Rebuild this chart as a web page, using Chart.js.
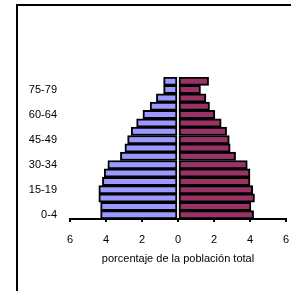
<!DOCTYPE html>
<html>
<head>
<meta charset="utf-8">
<script src="https://cdn.jsdelivr.net/npm/chart.js@4/dist/chart.umd.min.js"></script>
<style>
  html, body { margin: 0; padding: 0; background: #fff; }
  #wrap { width: 291px; height: 291px; position: relative; }
</style>
</head>
<body>
<div id="wrap"><canvas id="pyramid" width="291" height="291"></canvas></div>
<script>
const ageGroups = ['0-4', '5-9', '10-14', '15-19', '20-24', '25-29', '30-34', '35-39', '40-44',
    '45-49', '50-54', '55-59', '60-64', '65-69', '70-74', '75-79', '80+'];
const leftValues = [4.3, 4.3, 4.4, 4.4, 4.2, 4.1, 3.9, 3.2, 2.95, 2.8, 2.6, 2.3, 1.95, 1.55, 1.2, 0.8, 0.8];
const rightValues = [4.2, 4.05, 4.25, 4.15, 4.0, 4.0, 3.85, 3.2, 2.9, 2.85, 2.7, 2.4, 2.05, 1.75, 1.55, 1.25, 1.7];
const xTicks = [-6, -4, -2, 0, 2, 4, 6];
const xTitle = 'porcentaje de la población total';

const font = 'Liberation Sans, Arial, sans-serif';

// outer frame like the original sheet object
const framePlugin = {
    id: 'frame',
    beforeDraw(chart) {
        const ctx = chart.ctx;
        ctx.save();
        ctx.fillStyle = '#fff';
        ctx.fillRect(0, 0, chart.width, chart.height);
        ctx.strokeStyle = '#000';
        ctx.lineWidth = 2;
        ctx.strokeRect(17, 5, 320, 320);
        ctx.restore();
    }
};

new Chart(document.getElementById('pyramid'), {
    type: 'bar',
    data: {
        labels: ageGroups,
        datasets: [
            {
                data: leftValues.map(v => -v),
                backgroundColor: '#9999FF',
                borderColor: '#000',
                borderWidth: 2,
                borderSkipped: false
            },
            {
                data: rightValues,
                backgroundColor: '#993366',
                borderColor: '#000',
                borderWidth: 2,
                borderSkipped: false
            }
        ]
    },
    options: {
        indexAxis: 'y',
        responsive: false,
        animation: false,
        barPercentage: 1,
        categoryPercentage: 1,
        layout: { padding: { left: 0, top: 77, right: 5, bottom: 21 } },
        plugins: {
            legend: { display: false },
            tooltip: { enabled: false }
        },
        scales: {
            x: {
                stacked: true,
                min: -6,
                max: 6,
                afterBuildTicks: scale => { scale.ticks = xTicks.map(v => ({ value: v })); },
                afterFit: scale => {
                    scale.height = 51;
                    scale.paddingLeft = 0;
                    scale.paddingRight = 0;
                },
                border: { display: true, color: '#000', width: 2 },
                grid: { drawOnChartArea: false, drawTicks: true, tickLength: 3, color: '#000', lineWidth: 2 },
                ticks: {
                    color: '#000',
                    padding: 11,
                    font: { family: font, size: 11 },
                    callback: v => Math.abs(v)
                },
                title: {
                    display: true,
                    text: xTitle,
                    color: '#000',
                    padding: { top: 4, bottom: 4 },
                    font: { family: font, size: 11 }
                }
            },
            y: {
                stacked: true,
                reverse: true,
                afterFit: scale => { scale.width = 70; },
                border: { display: false },
                grid: { display: false, drawTicks: false },
                ticks: {
                    color: '#000',
                    autoSkip: false,
                    padding: 13,
                    font: { family: font, size: 11 },
                    callback: (v, i) => (i % 3 === 0 ? ageGroups[i] : '')
                }
            }
        }
    },
    plugins: [framePlugin]
});
</script>
</body>
</html>
